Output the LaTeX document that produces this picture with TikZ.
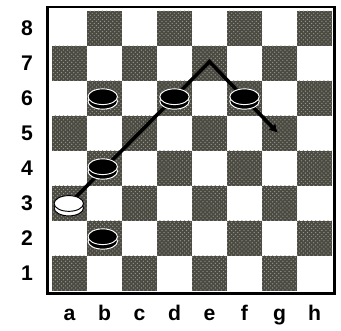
\documentclass[tikz,border=0pt]{standalone}
\usepackage{fontspec}
\setmainfont{Liberation Sans}
\usetikzlibrary{arrows.meta,shapes.geometric,patterns}
\definecolor{darksq}{RGB}{74,74,66}
\definecolor{speck}{RGB}{150,150,138}

\begin{document}
\begin{tikzpicture}[x=0.9cm,y=0.9cm,font=\bfseries\fontsize{15.5}{16}\selectfont,
  dark/.style={fill=darksq},
  grain/.style={pattern=crosshatch dots,pattern color=speck},
  frame/.style={line width=2pt},
  rank/.style={inner sep=0pt},
  file/.style={inner sep=0pt,anchor=base},
  jump/.style={-{Latex[length=6pt,width=7pt]},line width=2.6pt,line join=miter},
  disc/.style={ellipse,minimum width=21.5pt,minimum height=11.5pt,inner sep=0pt,line width=.7pt},
  blk/.style={disc,fill=black,draw=white},
  wht/.style={disc,fill=white,draw=black}]
\useasboundingbox[fill=white] (-1.486,-1.143) rectangle (8.257,8.314);
% board
\foreach \i in {1,...,8}
  \foreach \j in {1,...,8}{
    \pgfmathparse{int(mod(\i+\j,2))}
    \ifnum\pgfmathresult=0
      \fill[dark] (\i-1,\j-1) rectangle (\i,\j);
      \fill[grain] (\i-1,\j-1) rectangle (\i,\j);
    \fi}
\draw[frame] (-0.13,-0.07) rectangle (8.07,8.11);
% ranks and files
\foreach \r in {1,...,8}
  \node[rank] (r\r) at (-0.714,\r-0.5) {\r};
\foreach \f [count=\i] in {a,b,c,d,e,f,g,h}
  \node[file] (f\f) at (\i-0.5,-0.85) {\f};
% the jump
\coordinate (a3) at (0.5,2.5);
\coordinate (e7) at (4.5,6.55);
\coordinate (g5) at (6.45,4.52);
\draw[jump] (a3) -- (e7) -- (g5);
% pieces
\node[wht] (wa3r) at (0.48,2.37) {};
\node[wht] (wa3) at (0.48,2.5) {};
\node[blk] (bb2r) at (1.45,1.42) {};
\node[blk] (bb2) at (1.45,1.55) {};
\node[blk] (bb4r) at (1.45,3.42) {};
\node[blk] (bb4) at (1.45,3.55) {};
\node[blk] (bb6r) at (1.45,5.42) {};
\node[blk] (bb6) at (1.45,5.55) {};
\node[blk] (bd6r) at (3.5,5.42) {};
\node[blk] (bd6) at (3.5,5.55) {};
\node[blk] (bf6r) at (5.5,5.42) {};
\node[blk] (bf6) at (5.5,5.55) {};
\end{tikzpicture}
\end{document}
